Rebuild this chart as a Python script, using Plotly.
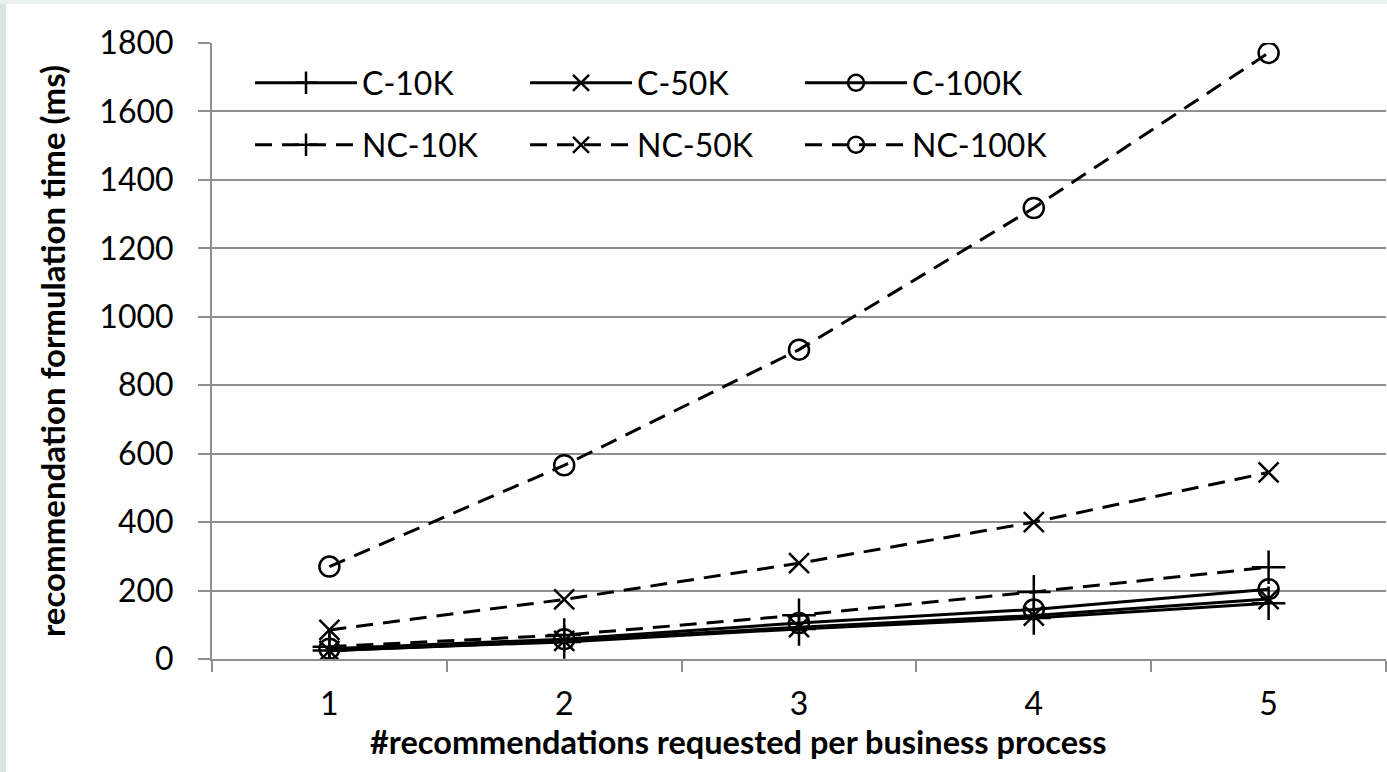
import plotly.graph_objects as go

# Number of recommendations requested per business process
requests = ["1", "2", "3", "4", "5"]

# Recommendation formulation time (ms), with clustering (C) and without (NC)
c_10k = [25, 50, 88, 120, 163]
c_50k = [24, 53, 93, 127, 175]
c_100k = [30, 58, 105, 145, 204]
nc_10k = [36, 70, 128, 196, 268]
nc_50k = [85, 174, 280, 400, 545]
nc_100k = [270, 566, 904, 1318, 1771]

y_ticks = [0, 200, 400, 600, 800, 1000, 1200, 1400, 1600, 1800]

x_title = "#recommendations requested per business process"
y_title = "recommendation formulation time (ms)"

FONT = "Lato, 'Liberation Sans Narrow', 'Open Sans', sans-serif"
GRID = "#8f8f8f"

W, H = 1387, 772
L, R, T, B = 212, 1, 43, 113
PW, PH = W - L - R, H - T - B

series = [
    ("C-10K", c_10k, "cross-thin-open", 24, "solid", "legend"),
    ("C-50K", c_50k, "x-thin-open", 20, "solid", "legend"),
    ("C-100K", c_100k, "circle-open", 20, "solid", "legend"),
    ("NC-10K", nc_10k, "cross-thin-open", 24, "17px,10px", "legend2"),
    ("NC-50K", nc_50k, "x-thin-open", 20, "17px,10px", "legend2"),
    ("NC-100K", nc_100k, "circle-open", 20, "17px,10px", "legend2"),
]

fig = go.Figure()
for name, vals, sym, size, dash, leg in series:
    fig.add_trace(go.Scatter(
        x=requests, y=vals, name=name, mode="lines+markers",
        line=dict(color="black", width=3, dash=dash),
        marker=dict(symbol=sym, size=size, color="black",
                    line=dict(color="black", width=2.5)),
        legend=leg,
    ))

def px_x(px):
    return (px - L) / PW

def px_y(py):
    return (H - B - py) / PH

legend_common = dict(
    orientation="h", xanchor="left", yanchor="middle",
    bgcolor="rgba(0,0,0,0)", borderwidth=0,
    font=dict(family=FONT, size=32, color="black"),
    entrywidth=158, entrywidthmode="pixels", itemwidth=102,
    traceorder="normal",
)

fig.update_layout(
    width=W, height=H,
    margin=dict(l=L, r=R, t=T, b=B),
    paper_bgcolor="white", plot_bgcolor="white",
    font=dict(family=FONT, size=32, color="black"),
    legend=dict(x=px_x(250), y=px_y(83), **legend_common),
    legend2=dict(x=px_x(250), y=px_y(145), **legend_common),
    xaxis=dict(
        type="category", range=[-0.5, 4.5],
        showgrid=False, showline=True, linecolor=GRID, linewidth=2,
        ticks="outside", tickson="boundaries", ticklen=11,
        tickcolor=GRID, tickwidth=2, ticklabelstandoff=16,
        tickfont=dict(family=FONT, size=32),
    ),
    yaxis=dict(
        range=[0, 1800], tickvals=y_ticks,
        showgrid=True, gridcolor=GRID, gridwidth=2,
        showline=True, linecolor=GRID, linewidth=2,
        zeroline=False,
        ticks="outside", ticklen=12, tickcolor=GRID, tickwidth=2,
        ticklabelstandoff=18,
        tickfont=dict(family=FONT, size=32),
        title=dict(text=y_title,
                   font=dict(family=FONT, size=33, weight="bold"),
                   standoff=24),
    ),
    annotations=[
        dict(text=x_title, xref="paper", yref="paper",
             x=px_x(738), y=px_y(741), xanchor="center", yanchor="middle",
             showarrow=False,
             font=dict(family=FONT, size=32.5, weight="bold", color="black")),
    ],
    shapes=[
        dict(type="rect", xref="paper", yref="paper", layer="above",
             x0=px_x(0), x1=px_x(6), y0=px_y(H), y1=px_y(0),
             fillcolor="#d8e7e1", line=dict(width=0)),
        dict(type="rect", xref="paper", yref="paper", layer="above",
             x0=px_x(0), x1=px_x(W), y0=px_y(4), y1=px_y(0),
             fillcolor="#e7f0ed", line=dict(width=0)),
    ],
)

fig.write_html("out.html")
